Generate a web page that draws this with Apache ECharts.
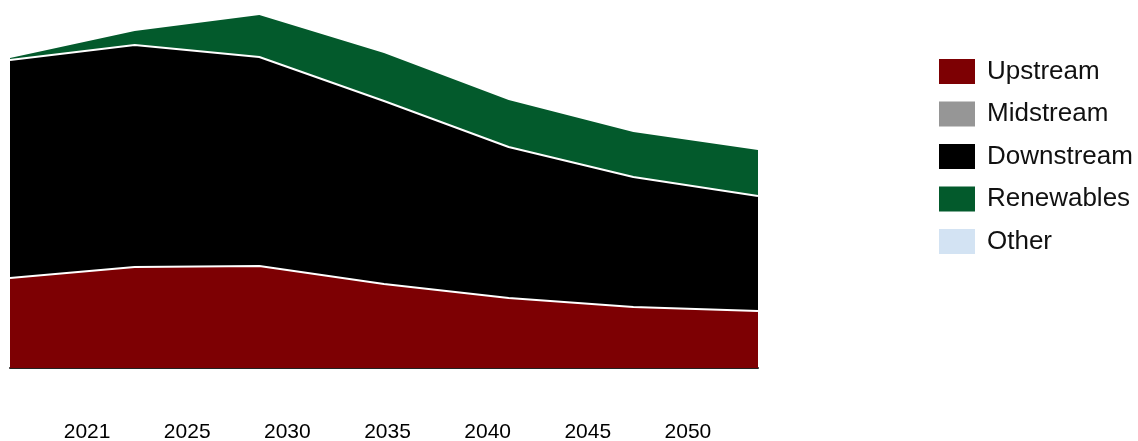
<!DOCTYPE html>
<html>
<head>
<meta charset="utf-8">
<script src="https://cdn.jsdelivr.net/npm/echarts@6/dist/echarts.min.js"></script>
<style>
  html, body { margin: 0; padding: 0; background: #fff; }
  #chart { width: 1138px; height: 441px; }
</style>
</head>
<body>
<div id="chart"></div>
<script>
// 年份（数据点与刻度标签）
var years = ['2021', '2025', '2030', '2035', '2040', '2045', '2050'];

// 各板块堆叠数值
var upstream    = [90, 101, 102, 84, 70, 61, 57];
var midstream   = [0, 0, 0, 0, 0, 0, 0];
var downstream  = [218, 222, 209, 183, 151, 130, 115];
var renewables  = [2, 14, 42, 48, 47, 45, 46];
var other       = [0, 0, 0, 0, 0, 0, 0];

var seriesNames = ['Upstream', 'Midstream', 'Downstream', 'Renewables', 'Other'];
var seriesData = [upstream, midstream, downstream, renewables, other];
var colors = ['#7d0003', '#969696', '#000000', '#035a2c', '#d3e3f3'];
var lineWidths = [2, 0, 2, 0, 0];

var chart = echarts.init(document.getElementById('chart'), null, { renderer: 'canvas' });

var series = seriesNames.map(function (name, i) {
  return {
    name: name,
    type: 'line',
    stack: 'total',
    xAxisIndex: 0,
    yAxisIndex: 0,
    z: 10 - i,
    showSymbol: false,
    symbol: 'none',
    silent: true,
    lineStyle: { color: '#ffffff', width: lineWidths[i] },
    itemStyle: { color: colors[i] },
    areaStyle: { color: colors[i], opacity: 1 },
    data: seriesData[i]
  };
});

var option = {
  backgroundColor: '#ffffff',
  animation: false,
  textStyle: { fontFamily: 'Liberation Sans, Arial, sans-serif' },
  grid: [
    { left: 10, right: 380, top: 8, bottom: 73, outerBoundsMode: 'none' },
    { left: 37, width: 701, top: 8, bottom: 21, outerBoundsMode: 'none' }
  ],
  legend: {
    data: seriesNames,
    orient: 'vertical',
    left: 939,
    top: 55,
    padding: 0,
    itemWidth: 36,
    itemHeight: 25,
    itemGap: 9.5,
    icon: 'rect',
    selectedMode: false,
    textStyle: {
      fontSize: 26,
      lineHeight: 25,
      color: '#111',
      fontFamily: 'Liberation Sans, Arial, sans-serif',
      padding: [8, 0, 0, 7]
    }
  },
  xAxis: [
    {
      gridIndex: 0,
      type: 'category',
      boundaryGap: false,
      data: years,
      axisLine: { show: true, lineStyle: { color: '#222', width: 2 } },
      axisTick: { show: false },
      axisLabel: { show: false },
      splitLine: { show: false }
    },
    {
      gridIndex: 1,
      type: 'category',
      boundaryGap: true,
      data: years,
      axisLine: { show: false },
      axisTick: { show: false },
      splitLine: { show: false },
      axisLabel: {
        margin: 12,
        verticalAlign: 'middle',
        fontSize: 21,
        color: '#000',
        fontFamily: 'Liberation Sans, Arial, sans-serif'
      }
    }
  ],
  yAxis: [
    { gridIndex: 0, type: 'value', min: 0, max: 360, show: false },
    { gridIndex: 1, type: 'value', min: 0, max: 360, show: false }
  ],
  series: series
};

chart.setOption(option);
</script>
</body>
</html>
